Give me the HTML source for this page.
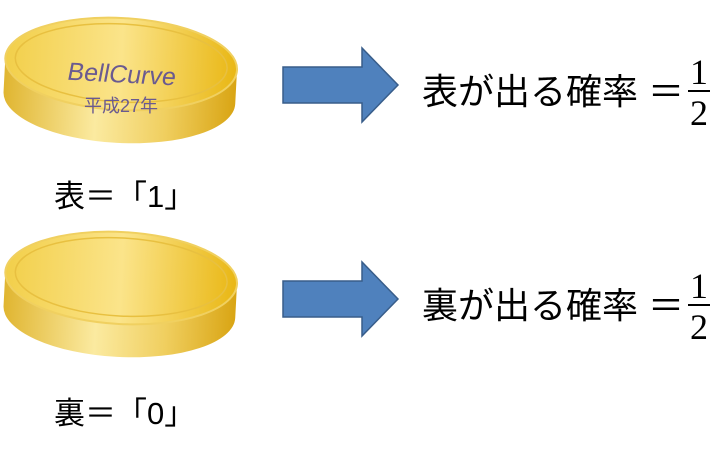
<!DOCTYPE html>
<html><head><meta charset="utf-8"><style>
body{margin:0;width:727px;height:468px;background:#fff;overflow:hidden;font-family:"Liberation Sans","Noto Sans CJK JP",sans-serif;}
svg{position:absolute;left:0;top:0}
</style></head><body>
<svg width="727" height="468" viewBox="0 0 727 468">
<defs>
<linearGradient id="side" x1="0" x2="1" y1="0" y2="0">
<stop offset="0" stop-color="#e0b530"/><stop offset="0.4" stop-color="#fbeaa0"/><stop offset="0.7" stop-color="#f0cf60"/><stop offset="1" stop-color="#d9a514"/>
</linearGradient>
<linearGradient id="top" x1="0" x2="1" y1="0" y2="0">
<stop offset="0" stop-color="#f2cf4a"/><stop offset="0.5" stop-color="#fbe48a"/><stop offset="1" stop-color="#e9b714"/>
</linearGradient>
<g id="coin">
<g transform="rotate(3 121 67)">
<path d="M5,67 L5,98 A116,45 0 0 0 237,98 L237,67 Z" fill="url(#side)"/>
<ellipse cx="121" cy="64" rx="116" ry="46" fill="url(#top)" stroke="#f0d060" stroke-width="2"/>
<ellipse cx="121" cy="63" rx="106" ry="39" fill="none" stroke="#e8c040" stroke-width="1.5"/>
</g>
</g>
<g id="arrow"><path d="M283,67 L362,67 L362,48 L398,85 L362,122 L362,103 L283,103 Z" fill="#4f81bd" stroke="#385d8a" stroke-width="1.5"/></g>
</defs>
<use href="#coin"/>
<use href="#coin" y="214"/>
<use href="#arrow"/>
<use href="#arrow" y="214"/>
<text x="120" y="86" font-size="25" fill="#6a5a90" text-anchor="middle" transform="rotate(3 120 86) skewX(-8)" style="transform-box:fill-box">BellCurve</text>
<text x="121" y="112" font-size="18" fill="#6a5a90" text-anchor="middle">平成27年</text>
<g font-size="36" fill="#000">
<text x="422" y="104">表が出る確率 ＝</text>
<text x="422" y="318">裏が出る確率 ＝</text>
</g>
<g font-size="31" fill="#000">
<text x="54" y="207">表＝「1」</text>
<text x="54" y="424">裏＝「0」</text>
</g>
<g font-size="36" text-anchor="middle" font-family="Liberation Serif,serif">
<text x="699" y="84">1</text><line x1="688" x2="710" y1="91" y2="91" stroke="#000" stroke-width="2"/><text x="699" y="125">2</text>
<text x="699" y="298">1</text><line x1="688" x2="710" y1="305" y2="305" stroke="#000" stroke-width="2"/><text x="699" y="339">2</text>
</g>
</svg>
</body></html>
